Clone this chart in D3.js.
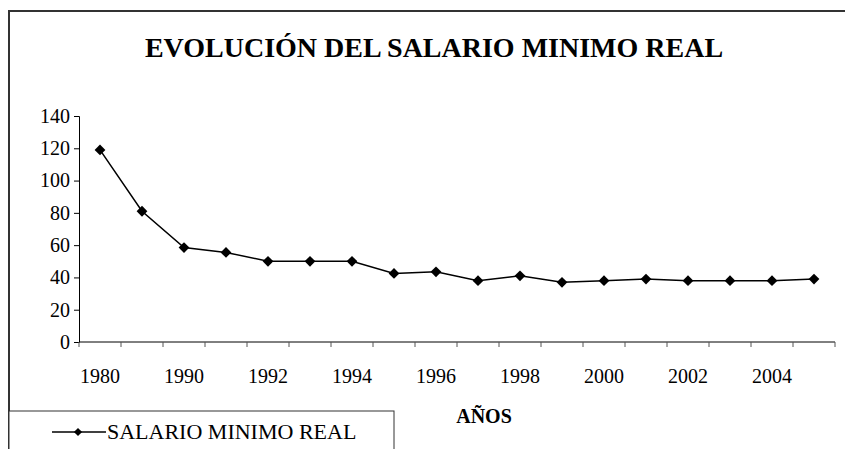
<!DOCTYPE html>
<html>
<head>
<meta charset="utf-8">
<script src="https://cdn.jsdelivr.net/npm/d3@7"></script>
<style>
 svg text { font-family: 'Liberation Serif', 'Times New Roman', serif !important; }
</style>
</head>
<body style="margin:0; background:#fff">
<div id="chart"></div>
<script>
//Chart data.
var years = ["1980", "1985", "1990", "1991", "1992", "1993", "1994", "1995", "1996",
             "1997", "1998", "1999", "2000", "2001", "2002", "2003", "2004", "2005"];
var salario = [119, 81, 58.5, 55.5, 50, 50, 50, 42.5, 43.5, 38, 41, 37, 38, 39, 38, 38, 38, 39];
var yTicks = [0, 20, 40, 60, 80, 100, 120, 140];
var seriesName = "SALARIO MINIMO REAL";
var titleText = "EVOLUCIÓN DEL SALARIO MINIMO REAL";
var xTitle = "AÑOS";

var width = 845, height = 449;
var serifFont = "'Liberation Serif', 'Times New Roman', serif";
var svg = d3.select("#chart").append("svg").attr("width", width).attr("height", height)
 .attr("font-family", serifFont);

//Outer frame (left and top edges visible).
svg.append("path").attr("d", "M9,449 V11 H845").attr("fill", "none")
 .attr("stroke", "#333").attr("stroke-width", 2);

//Title.
svg.append("text").attr("x", 434).attr("y", 57).attr("text-anchor", "middle")
 .attr("font-family", serifFont).attr("font-size", 28).attr("font-weight", "bold").text(titleText);

//Plot area.
var plotLeft = 79, plotRight = 835, plotTop = 116, plotBottom = 342;

var x = d3.scaleBand().domain(years).range([plotLeft, plotRight]);
var y = d3.scaleLinear().domain([0, 140]).range([plotBottom, plotTop]);

//Y axis.
var yAxis = svg.append("g").attr("transform", "translate(" + plotLeft + ",0)")
 .call(d3.axisLeft(y).tickValues(yTicks).tickSize(5).tickPadding(4))
 .attr("font-family", serifFont).attr("font-size", 20);
yAxis.selectAll("text").attr("fill", "#000");
yAxis.selectAll("line, path").attr("stroke", "#000");

//X axis, ticks on category boundaries.
var xAxis = svg.append("g").attr("transform", "translate(0," + plotBottom + ")");
xAxis.append("line").attr("x1", plotLeft).attr("x2", plotRight).attr("y1", 0).attr("y2", 0).attr("stroke", "#000");
xAxis.selectAll(".tk").data(years.concat(["end"])).enter().append("line")
 .attr("x1", function(d, i) { return plotLeft + i * x.bandwidth(); })
 .attr("x2", function(d, i) { return plotLeft + i * x.bandwidth(); })
 .attr("y1", 0).attr("y2", 5).attr("stroke", "#555");
xAxis.selectAll(".lb").data(years.filter(function(d, i) { return i % 2 === 0; })).enter().append("text")
 .attr("x", function(d) { return x(d) + x.bandwidth() / 2; })
 .attr("y", 41).attr("text-anchor", "middle")
 .attr("font-family", serifFont).attr("font-size", 20)
 .text(function(d) { return d; });

//X axis title.
svg.append("text").attr("x", 484).attr("y", 423).attr("text-anchor", "middle")
 .attr("font-family", serifFont).attr("font-size", 20).attr("font-weight", "bold").text(xTitle);

//Line.
var line = d3.line()
 .x(function(d, i) { return x(years[i]) + x.bandwidth() / 2; })
 .y(function(d) { return y(d); });
svg.append("path").datum(salario).attr("d", line).attr("fill", "none")
 .attr("stroke", "#000").attr("stroke-width", 1.5);

//Diamond markers.
var diamond = d3.symbol().type(d3.symbolSquare).size(58);
svg.selectAll(".pt").data(salario).enter().append("path")
 .attr("d", diamond)
 .attr("transform", function(d, i)
 {
  return "translate(" + (x(years[i]) + x.bandwidth() / 2) + "," + y(d) + ") rotate(45)";
 }).attr("fill", "#000");

//Legend box.
svg.append("rect").attr("x", 9).attr("y", 411).attr("width", 385).attr("height", 60)
 .attr("fill", "#fff").attr("stroke", "#333").attr("stroke-width", 1);
svg.append("line").attr("x1", 52).attr("x2", 106).attr("y1", 432).attr("y2", 432)
 .attr("stroke", "#000").attr("stroke-width", 1.5);
svg.append("path").attr("d", d3.symbol().type(d3.symbolSquare).size(34))
 .attr("transform", "translate(78,432) rotate(45)").attr("fill", "#000");
svg.append("text").attr("x", 107).attr("y", 439)
 .attr("font-family", serifFont).attr("font-size", 22).text(seriesName);
</script>
</body>
</html>
